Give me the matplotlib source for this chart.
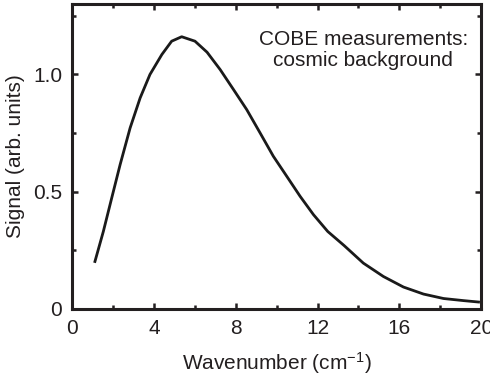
import matplotlib
matplotlib.use("Agg")
import matplotlib.pyplot as plt
from matplotlib.ticker import FixedLocator

plt.rcParams['font.family'] = ['Liberation Sans', 'DejaVu Sans']
plt.rcParams['mathtext.fontset'] = 'custom'
plt.rcParams['mathtext.rm'] = 'Liberation Sans'
plt.rcParams['mathtext.it'] = 'Liberation Sans'

# COBE spectrum
wavenumber = [1.12, 1.53, 1.94, 2.35, 2.84, 3.33, 3.81, 4.39, 4.87, 5.36,
              6.01, 6.6, 7.24, 7.89, 8.54, 9.19, 9.84, 10.5, 11.15, 11.8,
              12.5, 13.3, 14.24, 15.22, 16.2, 17.18, 18.16, 19.14, 19.87]
signal = [0.202, 0.330, 0.473, 0.615, 0.772, 0.900, 1.000, 1.085, 1.142, 1.161,
          1.142, 1.095, 1.021, 0.936, 0.850, 0.751, 0.651, 0.565, 0.480, 0.402,
          0.330, 0.270, 0.195, 0.138, 0.093, 0.063, 0.044, 0.035, 0.029]

xticks = [0, 4, 8, 12, 16, 20]
yticks = [0, 0.5, 1.0]
ytick_labels = ['0', '0.5', '1.0']

ink = '#231f20'
fs = 15

fig = plt.figure(figsize=(4.9, 3.78), dpi=100)
ax = fig.add_axes([0.147, 0.183, 0.835, 0.806])

ax.plot(wavenumber, signal, color='#1a1a1a', lw=2.0, solid_joinstyle='round')

ax.set_xlim(0, 20)
ax.set_ylim(0, 1.30)
ax.set_xticks(xticks)
ax.set_yticks(yticks)
ax.set_yticklabels(ytick_labels)
ax.xaxis.set_minor_locator(FixedLocator([2, 6, 10, 14, 18]))
ax.yaxis.set_minor_locator(FixedLocator([0.25, 0.75, 1.25]))

for s in ax.spines.values():
    s.set_linewidth(2.2)
    s.set_color(ink)

ax.tick_params(which='both', direction='in', top=True, right=True,
               color=ink, width=1.8, labelsize=fs, labelcolor=ink)
ax.tick_params(which='major', length=4.5)
ax.tick_params(which='minor', length=2.8)
ax.tick_params(axis='x', which='major', pad=7)
ax.tick_params(axis='y', which='major', pad=7)

ax.set_xlabel(r'Wavenumber (cm$^{-1}$)', fontsize=fs, color=ink, labelpad=9)
ax.set_ylabel('Signal (arb. units)', fontsize=fs, color=ink, labelpad=6)

ax.text(0.712, 0.915, 'COBE measurements:\ncosmic background', transform=ax.transAxes,
        ha='center', va='top', fontsize=fs, color=ink, linespacing=1.1)

fig.savefig('out.png', dpi=100)
